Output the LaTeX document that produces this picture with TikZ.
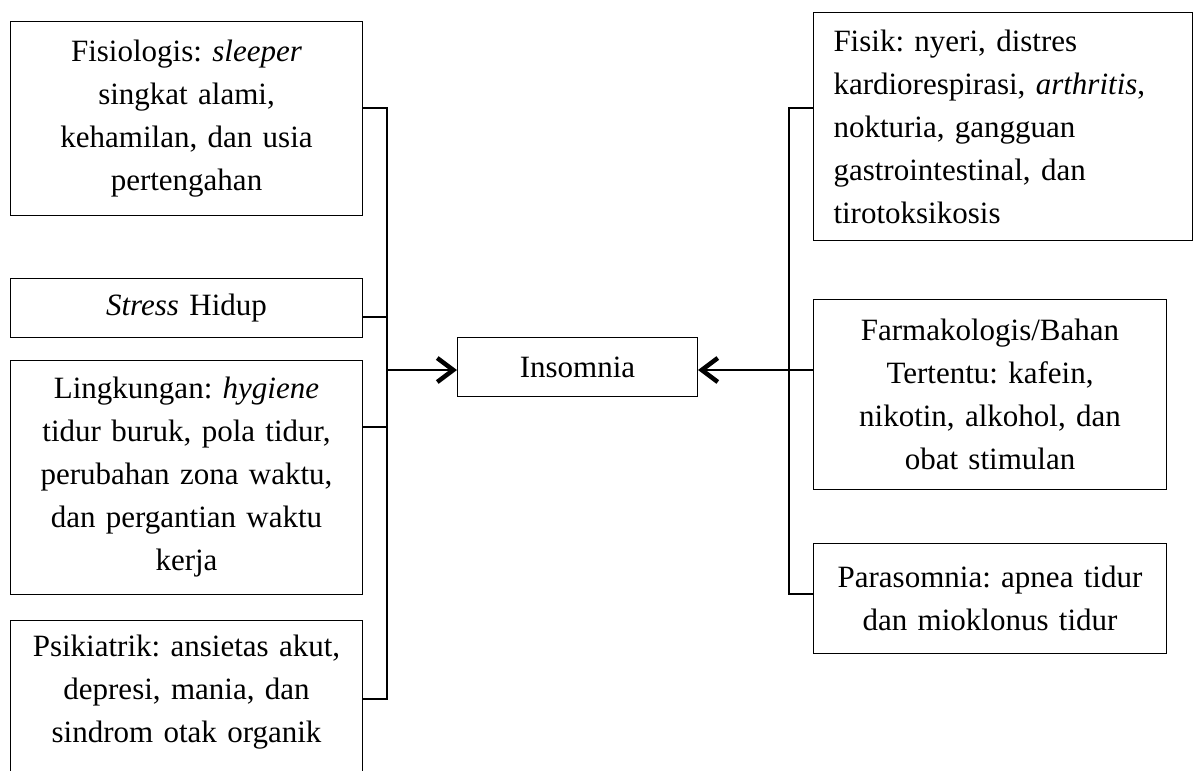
\documentclass[tikz,border=0pt]{standalone}
\usepackage{fontspec}
\setmainfont{Liberation Serif}
\usetikzlibrary{arrows.meta}
\frenchspacing

\begin{document}
\begin{tikzpicture}[x=1pt, y=-1pt,
		kotak/.style={draw, line width=1pt, anchor=north west, align=center, inner xsep=4pt, inner ysep=0pt, font=\fontsize{31}{43}\selectfont},
		garis/.style={line width=1.4pt},
		panah/.style={line width=2.2pt, -{Straight Barb[length=16pt, width=24pt, line width=4.5pt]}}]
		\clip (0,0) rectangle (1197,771);
		% faktor kiri
		\node[kotak, text width=344pt, minimum height=194pt](fisiologis) at (10,21) {Fisiologis: \textit{sleeper}\\singkat alami,\\kehamilan, dan usia\\pertengahan};
		\node[kotak, text width=344pt, minimum height=59pt](stress) at (10,278) {\textit{Stress} Hidup};
		\node[kotak, text width=344pt, minimum height=234pt](lingkungan) at (10,360) {Lingkungan: \textit{hygiene}\\tidur buruk, pola tidur,\\perubahan zona waktu,\\dan pergantian waktu\\kerja};
		\node[kotak, text width=344pt, minimum height=190pt, inner ysep=12pt, text depth=140pt](psikiatrik) at (10,620) {Psikiatrik: ansietas akut,\\depresi, mania, dan\\sindrom otak organik};
		% tengah
		\node[kotak, text width=232pt, minimum height=59pt](insomnia) at (457,337) {Insomnia};
		% faktor kanan
		\node[kotak, text width=339pt, inner xsep=20pt, align=left, minimum height=228pt](fisik) at (813,12) {Fisik: nyeri, distres\\kardiorespirasi, \textit{arthritis},\\nokturia, gangguan\\gastrointestinal, dan\\tirotoksikosis};
		\node[kotak, text width=345pt, minimum height=190pt](farmakologis) at (813,299) {Farmakologis/Bahan\\Tertentu: kafein,\\nikotin, alkohol, dan\\obat stimulan};
		\node[kotak, text width=345pt, minimum height=110pt](parasomnia) at (813,543) {Parasomnia: apnea tidur\\dan mioklonus tidur};
		% titik pada garis
		\coordinate (k1) at (387,108);
		\coordinate (k2) at (387,317);
		\coordinate (k3) at (387,427);
		\coordinate (k4) at (387,699);
		\coordinate (kt) at (387,370);
		\coordinate (n1) at (789,108);
		\coordinate (n3) at (789,594);
		\coordinate (nt) at (789,370);
		% garis kiri
		\draw[garis] (fisiologis.east |- k1) -- (k1) -- (k4) -- (psikiatrik.east |- k4);
		\draw[garis] (stress.east |- k2) -- (k2);
		\draw[garis] (lingkungan.east |- k3) -- (k3);
		\draw[panah] (kt) -- (insomnia.west |- kt);
		% garis kanan
		\draw[garis] (fisik.west |- n1) -- (n1) -- (n3) -- (parasomnia.west |- n3);
		\draw[garis] (farmakologis.west |- nt) -- (nt);
		\draw[panah] (nt) -- (insomnia.east |- nt);
	\end{tikzpicture}
\end{document}
